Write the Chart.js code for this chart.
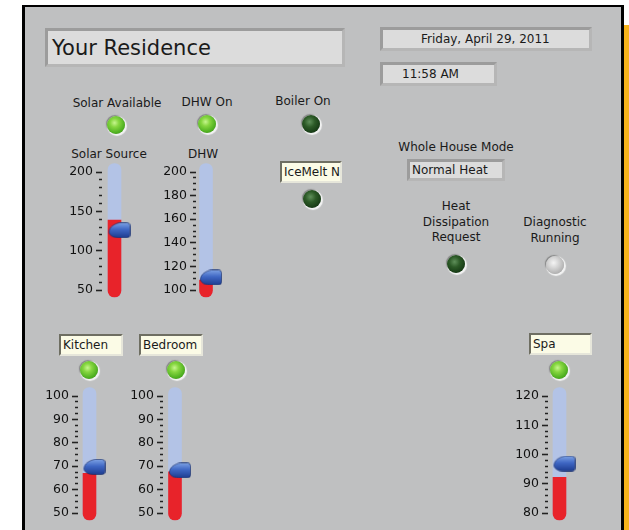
<!DOCTYPE html>
<html>
<head>
<meta charset="utf-8">
<script src="https://cdn.jsdelivr.net/npm/chart.js@4.4.1/dist/chart.umd.min.js"></script>
<style>
body { margin:0; width:629px; height:530px; overflow:hidden; background:#fff; position:relative;
       font-family:"DejaVu Sans", sans-serif; font-size:12px; color:#1a1a1a; }
#panel { position:absolute; left:22px; top:5px; width:602px; height:540px; box-sizing:border-box;
         background:#bfc0c1; border-left:3px solid #000; border-top:2px solid #000; border-right:3px solid #000; }
#strip { position:absolute; left:624px; top:25px; width:5px; height:505px; background:#f6b31b; }
.lbl { position:absolute; text-align:center; white-space:nowrap; line-height:15.5px; transform:translateX(-50%); }
.box { position:absolute; box-sizing:border-box; white-space:nowrap; overflow:hidden; }
.gray { background:#dcdcdc; border:3px solid; border-color:#9c9c9c #b6b6b6 #b6b6b6 #9c9c9c; }
.cream { background:#fbfbe6; border:2px solid; border-color:#6e6e62 #e6e6da #e6e6da #6e6e62; }
.led { position:absolute; width:18px; height:18px; border-radius:50%;
       box-shadow: 1px 1px 1px 1px rgba(255,255,255,0.8), -1px -1px 1px 0 rgba(80,80,80,0.55); }
.led.on { background:radial-gradient(circle at 42% 38%, #c6f58e 0, #86d640 28%, #4fb021 65%, #3b8c17 100%); }
.led.off { background:radial-gradient(circle at 42% 38%, #5f8f5a 0, #2c5a27 35%, #153814 75%, #0d260c 100%); }
.led.idle { background:radial-gradient(circle at 42% 38%, #f4f4f4 0, #d4d4d4 35%, #a9a9a9 80%, #989898 100%); }
canvas { position:absolute; }
</style>
</head>
<body>
<div id="panel"></div>
<div id="strip"></div>

<div class="box gray" style="left:45px;top:28px;width:300px;height:39px;font-size:21px;line-height:34px;padding-left:4px;">Your Residence</div>
<div class="box gray" style="left:380px;top:27px;width:212px;height:24px;line-height:19px;padding-left:38px;">Friday, April 29, 2011</div>
<div class="box gray" style="left:380px;top:62px;width:117px;height:24px;line-height:19px;padding-left:19px;">11:58 AM</div>
<div class="box gray" style="left:407px;top:159px;width:98px;height:22px;line-height:16px;padding-left:2px;">Normal Heat</div>
<div class="box cream" style="left:280px;top:161px;width:62px;height:22px;line-height:18px;padding-left:2px;">IceMelt N</div>
<div class="box cream" style="left:59px;top:334px;width:64px;height:22px;line-height:18px;padding-left:2px;">Kitchen</div>
<div class="box cream" style="left:139px;top:334px;width:64px;height:22px;line-height:18px;padding-left:2px;">Bedroom</div>
<div class="box cream" style="left:529px;top:333px;width:63px;height:22px;line-height:18px;padding-left:2px;">Spa</div>

<div class="lbl" style="left:117px;top:96px;">Solar Available</div>
<div class="lbl" style="left:207px;top:95px;">DHW On</div>
<div class="lbl" style="left:303px;top:94px;">Boiler On</div>
<div class="lbl" style="left:109px;top:147px;">Solar Source</div>
<div class="lbl" style="left:203px;top:147px;">DHW</div>
<div class="lbl" style="left:456px;top:140px;">Whole House Mode</div>
<div class="lbl" style="left:456px;top:199px;">Heat<br>Dissipation<br>Request</div>
<div class="lbl" style="left:555px;top:215px;">Diagnostic<br>Running</div>

<script>
// gauge data
const gaugeNames = ['Solar Source', 'DHW', 'Kitchen', 'Bedroom', 'Spa'];
const gaugeMin = [50, 100, 50, 50, 80];
const gaugeMax = [200, 200, 100, 100, 120];
const majorStep = [50, 20, 10, 10, 10];
const minorStep = [10, 5, 2.5, 2.5, 2];
const gaugeValues = [139, 108.5, 67, 67.6, 92.2];
const setpoints = [126, 110.6, 69.7, 68.2, 96.9];

// indicator data
const ledNames = ['Solar Available', 'DHW On', 'Boiler On', 'IceMelt N', 'Heat Dissipation Request',
                  'Diagnostic Running', 'Kitchen', 'Bedroom', 'Spa'];
const ledStates = ['on', 'on', 'off', 'off', 'off', 'idle', 'on', 'on', 'on'];

// where things sit on the panel
const ledCenters = [[116, 125], [207, 124], [311, 124], [312, 199], [456, 264], [555, 265], [89, 370], [176, 370], [559, 370]];
const gaugeLayout = [
    { axisRight: 102, center: 114.5, top: 172, bottom: 290 },
    { axisRight: 196, center: 206.2, top: 172, bottom: 290 },
    { axisRight: 78, center: 89.5, top: 396, bottom: 513 },
    { axisRight: 163, center: 175, top: 396, bottom: 513 },
    { axisRight: 548, center: 559.5, top: 396, bottom: 513 }
];

ledNames.forEach((name, i) => {
    const d = document.createElement('div');
    d.className = 'led ' + ledStates[i];
    d.title = name;
    d.style.left = (ledCenters[i][0] - 9) + 'px';
    d.style.top = (ledCenters[i][1] - 9) + 'px';
    document.body.appendChild(d);
});

// blue slider thumb, used as the point style of the setpoint dataset
function makeThumb() {
    const c = document.createElement('canvas');
    c.width = 32; c.height = 16;
    const g = c.getContext('2d');
    const l = 10.5, r = 31.5, t = 0.5, b = 15.5, m = 10;
    g.beginPath();
    g.moveTo(l + 11, t);
    g.lineTo(r - 3, t);
    g.quadraticCurveTo(r, t, r, t + 3);
    g.lineTo(r, b - 3);
    g.quadraticCurveTo(r, b, r - 3, b);
    g.lineTo(l + 9, b);
    g.bezierCurveTo(l + 3, b, l, m + 2, l, m);
    g.bezierCurveTo(l, m - 5, l + 5, t + 1, l + 11, t);
    g.closePath();
    const grad = g.createLinearGradient(0, t, 0, b);
    grad.addColorStop(0, '#7da2e4');
    grad.addColorStop(0.45, '#3f67c4');
    grad.addColorStop(1, '#1d3c8f');
    g.fillStyle = grad;
    g.fill();
    g.strokeStyle = 'rgba(20,40,100,0.6)';
    g.lineWidth = 1;
    g.stroke();
    return c;
}
const thumb = makeThumb();

function makeGauge(i) {
    const L = gaugeLayout[i];
    const axisW = 40, padTop = 14, padBottom = 14, padRight = 22;
    const areaW = 2 * (L.center - L.axisRight);
    const cv = document.createElement('canvas');
    cv.width = Math.round(axisW + areaW + padRight);
    cv.height = L.bottom - L.top + padTop + padBottom;
    cv.style.left = (L.axisRight - axisW) + 'px';
    cv.style.top = (L.top - padTop) + 'px';
    document.body.appendChild(cv);

    const min = gaugeMin[i], max = gaugeMax[i];
    const unitsPerPx = (max - min) / (L.bottom - L.top);
    const capTop = 8.5 * unitsPerPx, capBottom = 7 * unitsPerPx;  // rounded tube ends
    const isMajor = v => {
        const k = (v - min) / majorStep[i];
        return Math.abs(k - Math.round(k)) < 1e-6;
    };
    const tickValues = [];
    for (let v = min; v <= max + 1e-9; v += minorStep[i]) tickValues.push(+v.toFixed(3));

    new Chart(cv, {
        type: 'bar',
        data: {
            labels: [gaugeNames[i]],
            datasets: [
                { type: 'line', data: [setpoints[i]], pointStyle: thumb, showLine: false, order: 1, clip: false },
                { data: [[min - capBottom, gaugeValues[i]]], backgroundColor: '#e8232a', borderSkipped: false,
                  borderRadius: { topLeft: 0, topRight: 0, bottomLeft: 7, bottomRight: 7 }, order: 2, clip: false },
                { data: [[min - capBottom, max + capTop]], backgroundColor: '#b3c3e6', borderSkipped: false,
                  borderRadius: 7, order: 3, clip: false }
            ]
        },
        options: {
            responsive: false,
            animation: false,
            events: [],
            layout: { padding: { top: padTop, bottom: padBottom, left: 0, right: padRight } },
            plugins: { legend: { display: false }, tooltip: { enabled: false } },
            datasets: { bar: { grouped: false, barThickness: 13 } },
            scales: {
                x: { display: false },
                y: {
                    min: min,
                    max: max,
                    afterFit: s => { s.width = axisW; },
                    afterBuildTicks: s => { s.ticks = tickValues.map(v => ({ value: v })); },
                    border: { display: false },
                    grid: {
                        drawOnChartArea: false,
                        tickLength: 6,
                        tickWidth: 1.6,
                        tickColor: '#222',
                        tickBorderDash: ctx => (ctx.tick && isMajor(ctx.tick.value)) ? [] : [0, 3, 3, 20]
                    },
                    ticks: {
                        autoSkip: false,
                        padding: 3,
                        color: '#111',
                        font: { family: 'DejaVu Sans', size: 12.5 },
                        callback: v => isMajor(v) ? String(v) : ''
                    }
                }
            }
        }
    });
}

gaugeNames.forEach((n, i) => makeGauge(i));
</script>
</body>
</html>
